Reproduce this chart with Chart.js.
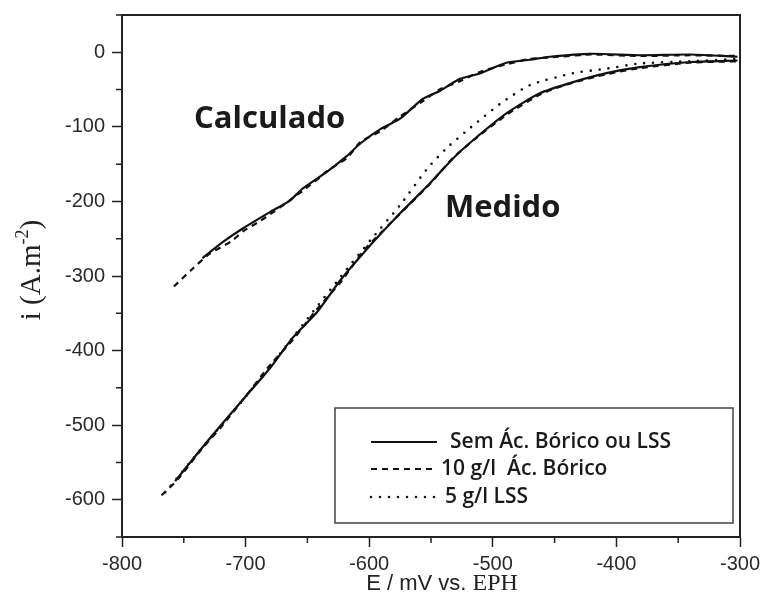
<!DOCTYPE html>
<html lang="pt">
<head>
    <meta charset="UTF-8">
    <title>Curvas de polarização</title>
    <script src="https://cdn.jsdelivr.net/npm/chart.js"></script>
    <style>
        body {
            margin: 0;
            background-color: white;
        }
        #chart {
            display: block;
        }
    </style>
</head>
<body>
    <canvas id="chart" width="763" height="606"></canvas>
    <script>
        // series names (legend)
        const seriesNames = ['Sem Ác. Bórico ou LSS', '10 g/l  Ác. Bórico', '5 g/l LSS'];

        // axis ticks
        const xTicks = [-800, -700, -600, -500, -400, -300];
        const yTicks = [-600, -500, -400, -300, -200, -100, 0];

        // "Medido" curves: E (mV) and i (A.m-2)
        const medSemE = [-757, -737, -721, -696, -680, -662, -642, -624, -603, -575, -551, -532, -516, -489, -462, -435, -408, -381, -340, -302];
        const medSemI = [-575, -534, -502, -454, -423, -383, -348, -307, -266, -216, -176, -142, -118, -82, -55, -40, -28, -20, -13, -11];
        const med10E = [-768, -755, -736, -720, -697, -681, -661, -643, -623, -604, -576, -550, -533, -515, -488, -461, -436, -407, -380, -341, -302];
        const med10I = [-594, -573, -533, -503, -455, -421, -384, -346, -308, -265, -218, -175, -143, -117, -83, -56, -41, -29, -21, -14, -12];
        const med5E = [-765, -737, -696, -664, -646, -624, -599, -575, -553, -537, -518, -494, -470, -435, -408, -381, -340, -302];
        const med5I = [-590, -534, -454, -387, -349, -303, -252, -205, -156, -128, -101, -69, -44, -28, -22, -15, -12, -9];

        // "Calculado" curves
        const calcSemE = [-735, -718, -702, -680, -665, -654, -634, -618, -607, -591, -575, -557, -543, -527, -510, -489, -470, -454, -421, -381, -340, -302];
        const calcSemI = [-276, -254, -236, -214, -200, -183, -160, -139, -122, -103, -89, -63, -52, -36, -28, -14, -10, -6, -2, -4, -3, -6];
        const calc10E = [-758, -744, -729, -712, -702, -688, -680, -668, -654, -640, -634, -618, -607, -591, -575, -557, -543, -527, -510, -489, -470, -454, -421, -381, -340, -302];
        const calc10I = [-314, -292, -270, -254, -240, -226, -217, -203, -186, -168, -159, -142, -120, -106, -86, -66, -50, -39, -26, -16, -9, -7, -3, -5, -4, -5];

        function pts(xs, ys) {
            return xs.map((x, i) => ({ x: x, y: ys[i] }));
        }

        const solid = [];
        const dashed = [6, 5];
        const dotted = [0, 9];

        function line(label, data, dash, width) {
            return {
                label: label,
                data: data,
                borderColor: '#111',
                borderWidth: width,
                borderDash: dash,
                borderCapStyle: dash === dotted ? 'round' : 'butt',
                pointRadius: 0,
                tension: 0.2,
                fill: false
            };
        }

        // minor ticks, frame, texts and legend
        const decorations = {
            id: 'decorations',
            afterDraw(chart) {
                const ctx = chart.ctx;
                const a = chart.chartArea;
                const xs = chart.scales.x;
                const ys = chart.scales.y;
                ctx.save();
                ctx.strokeStyle = '#222';
                ctx.lineWidth = 2;
                ctx.strokeRect(a.left, a.top, a.right - a.left, a.bottom - a.top);

                ctx.lineWidth = 1.5;
                ctx.beginPath();
                for (let v = -750; v < -300; v += 100) {
                    const px = xs.getPixelForValue(v);
                    ctx.moveTo(px, a.bottom);
                    ctx.lineTo(px, a.bottom + 6);
                }
                for (let v = -650; v <= 50; v += 100) {
                    const py = ys.getPixelForValue(v);
                    ctx.moveTo(a.left, py);
                    ctx.lineTo(a.left - 6, py);
                }
                ctx.stroke();

                // annotations
                ctx.fillStyle = '#1a1a1a';
                ctx.font = 'bold 31px "Open Sans"';
                ctx.textBaseline = 'middle';
                ctx.textAlign = 'left';
                ctx.fillText('Calculado', 194, 119);
                ctx.fillText('Medido', 445, 208);

                // x axis title
                ctx.fillStyle = '#222';
                ctx.font = '22px "Liberation Sans"';
                const part1 = 'E / mV vs. ';
                const w1 = ctx.measureText(part1).width;
                ctx.font = '24px "Liberation Serif"';
                const w2 = ctx.measureText('EPH').width;
                let sx = 442 - (w1 + w2) / 2;
                ctx.font = '22px "Liberation Sans"';
                ctx.fillText(part1, sx, 584);
                ctx.font = '24px "Liberation Serif"';
                ctx.fillText('EPH', sx + w1, 584);

                // y axis title
                ctx.translate(30, 270);
                ctx.rotate(-Math.PI / 2);
                ctx.font = '29px "Liberation Serif"';
                const t1 = 'i (A.m';
                const tw1 = ctx.measureText(t1).width;
                ctx.font = '18px "Liberation Serif"';
                const tw2 = ctx.measureText('-2').width;
                ctx.font = '29px "Liberation Serif"';
                const tw3 = ctx.measureText(')').width;
                let ty = -(tw1 + tw2 + tw3) / 2;
                ctx.fillText(t1, ty, 2);
                ctx.font = '18px "Liberation Serif"';
                ctx.fillText('-2', ty + tw1, -7);
                ctx.font = '29px "Liberation Serif"';
                ctx.fillText(')', ty + tw1 + tw2, 2);
                ctx.setTransform(1, 0, 0, 1, 0, 0);

                // legend
                ctx.strokeStyle = '#444';
                ctx.lineWidth = 1.5;
                ctx.strokeRect(335, 408, 398, 115);
                const rows = [442, 469, 497];
                const textX = [450, 441, 445];
                ctx.font = '600 21px "Open Sans"';
                ctx.fillStyle = '#1a1a1a';
                for (let i = 0; i < 3; i++) {
                    const ds = chart.data.datasets[i];
                    ctx.beginPath();
                    ctx.strokeStyle = '#111';
                    ctx.lineWidth = ds.borderWidth;
                    ctx.setLineDash(ds.borderDash);
                    ctx.lineCap = ds.borderCapStyle;
                    ctx.moveTo(371, rows[i]);
                    ctx.lineTo(437, rows[i]);
                    ctx.stroke();
                    ctx.setLineDash([]);
                    ctx.fillText(seriesNames[i], textX[i], rows[i]);
                }
                ctx.restore();
            }
        };

        new Chart(document.getElementById('chart').getContext('2d'), {
            type: 'line',
            data: {
                datasets: [
                    line(seriesNames[0], pts(medSemE, medSemI), solid, 2.2),
                    line(seriesNames[1], pts(med10E, med10I), dashed, 2.2),
                    line(seriesNames[2], pts(med5E, med5I), dotted, 2.6),
                    line(seriesNames[0], pts(calcSemE, calcSemI), solid, 2.2),
                    line(seriesNames[1], pts(calc10E, calc10I), dashed, 2.2)
                ]
            },
            options: {
                responsive: false,
                animation: false,
                layout: { padding: { top: 15, right: 23, left: 0, bottom: 0 } },
                plugins: {
                    legend: { display: false },
                    tooltip: { enabled: false }
                },
                scales: {
                    x: {
                        type: 'linear',
                        min: -800,
                        max: -300,
                        afterBuildTicks: s => { s.ticks = xTicks.map(v => ({ value: v })); },
                        afterFit: s => {
                            s.height = 69;
                            s.paddingLeft = 0;
                            s.paddingRight = 0;
                        },
                        grid: { drawOnChartArea: false, tickLength: 10, tickWidth: 1.5, tickColor: '#222' },
                        border: { color: '#222', width: 2 },
                        ticks: {
                            color: '#2a2a2a',
                            font: { family: 'Liberation Sans', size: 20 },
                            padding: 5,
                            maxRotation: 0
                        }
                    },
                    y: {
                        type: 'linear',
                        min: -650,
                        max: 50,
                        afterBuildTicks: s => { s.ticks = yTicks.map(v => ({ value: v })); },
                        afterFit: s => {
                            s.width = 122;
                            s.paddingTop = 0;
                            s.paddingBottom = 0;
                        },
                        grid: { drawOnChartArea: false, tickLength: 10, tickWidth: 1.5, tickColor: '#222' },
                        border: { color: '#222', width: 2 },
                        ticks: {
                            color: '#2a2a2a',
                            font: { family: 'Liberation Sans', size: 20 },
                            padding: 7
                        }
                    }
                }
            },
            plugins: [decorations]
        });
    </script>
</body>
</html>
